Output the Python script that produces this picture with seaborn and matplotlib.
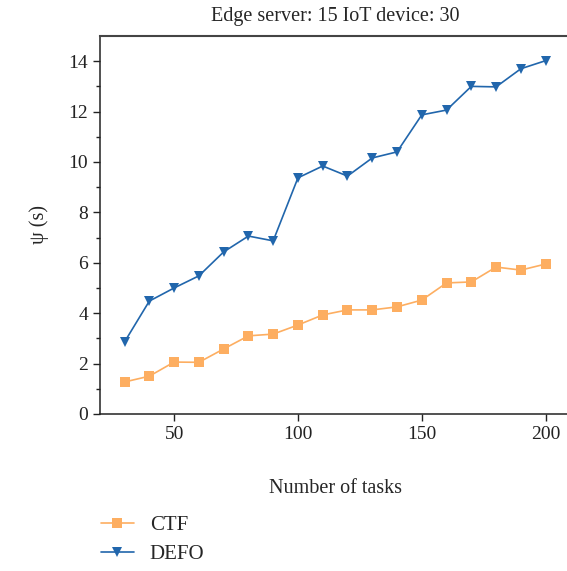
import pandas as pd
import matplotlib.pyplot as plt
import seaborn as sns

# Values
tasks = [30, 40, 50, 60, 70, 80, 90, 100, 110, 120, 130, 140, 150, 160, 170, 180, 190, 200]
ctf = [1.27, 1.50, 2.06, 2.05, 2.58, 3.10, 3.17, 3.53, 3.93, 4.13, 4.13, 4.25, 4.52, 5.20, 5.24, 5.83, 5.71, 5.95]
defo = [2.86, 4.48, 5.00, 5.48, 6.43, 7.06, 6.87, 9.37, 9.84, 9.44, 10.16, 10.40, 11.87, 12.06, 13.00, 12.98, 13.70, 14.02]
methods = ["CTF", "DEFO"]
colors = {"CTF": "#fdae61", "DEFO": "#2166ac"}
markers = {"CTF": "s", "DEFO": "v"}

df = pd.DataFrame({
    "tasks": tasks * 2,
    "psi": ctf + defo,
    "method": ["CTF"] * len(tasks) + ["DEFO"] * len(tasks),
})

sns.set_style("ticks")
plt.rcParams["font.family"] = ["Liberation Serif", "DejaVu Serif"]

fig = plt.figure(figsize=(5.67, 5.71), dpi=100)
ax = fig.add_axes([0.176, 0.275, 0.83, 0.662])

sns.lineplot(data=df, x="tasks", y="psi", hue="method", style="method",
             hue_order=methods, style_order=methods, palette=colors,
             markers=markers, dashes=False, markersize=7.5, linewidth=1.2,
             markeredgewidth=0, ax=ax, legend=False)

ax.set_xlim(20, 210)
ax.set_ylim(0, 15)
ax.set_xticks([50, 100, 150, 200])
ax.set_yticks(range(0, 15, 2))
ax.set_yticks(range(1, 15, 2), minor=True)
ax.tick_params(axis="both", which="major", length=5, width=1, labelsize=14, direction="out", colors="#222222")
ax.tick_params(axis="y", which="minor", length=3, width=1, direction="out", colors="#222222")
for s in ax.spines.values():
    s.set_linewidth(1.1)
    s.set_color("#222222")
ax.spines["top"].set_color("#444444")
ax.spines["top"].set_linewidth(1.5)
ax.spines["right"].set_visible(False)

ax.set_title("Edge server: 15 IoT device: 30", fontsize=14.5, pad=11)
ax.set_xlabel("Number of tasks", fontsize=14.5, labelpad=26)
ax.set_ylabel("ψ (s)", fontsize=14.5, labelpad=14)

handles = [plt.Line2D([], [], color=colors[m], marker=markers[m], markersize=7.5,
                      markeredgewidth=0, linewidth=1.2) for m in methods]
fig.legend(handles, methods, loc="upper left", bbox_to_anchor=(0.163, 0.112),
           frameon=False, fontsize=15, handlelength=1.6, labelspacing=0.45,
           borderaxespad=0, handletextpad=0.75)

plt.savefig("out.png", dpi=100)
